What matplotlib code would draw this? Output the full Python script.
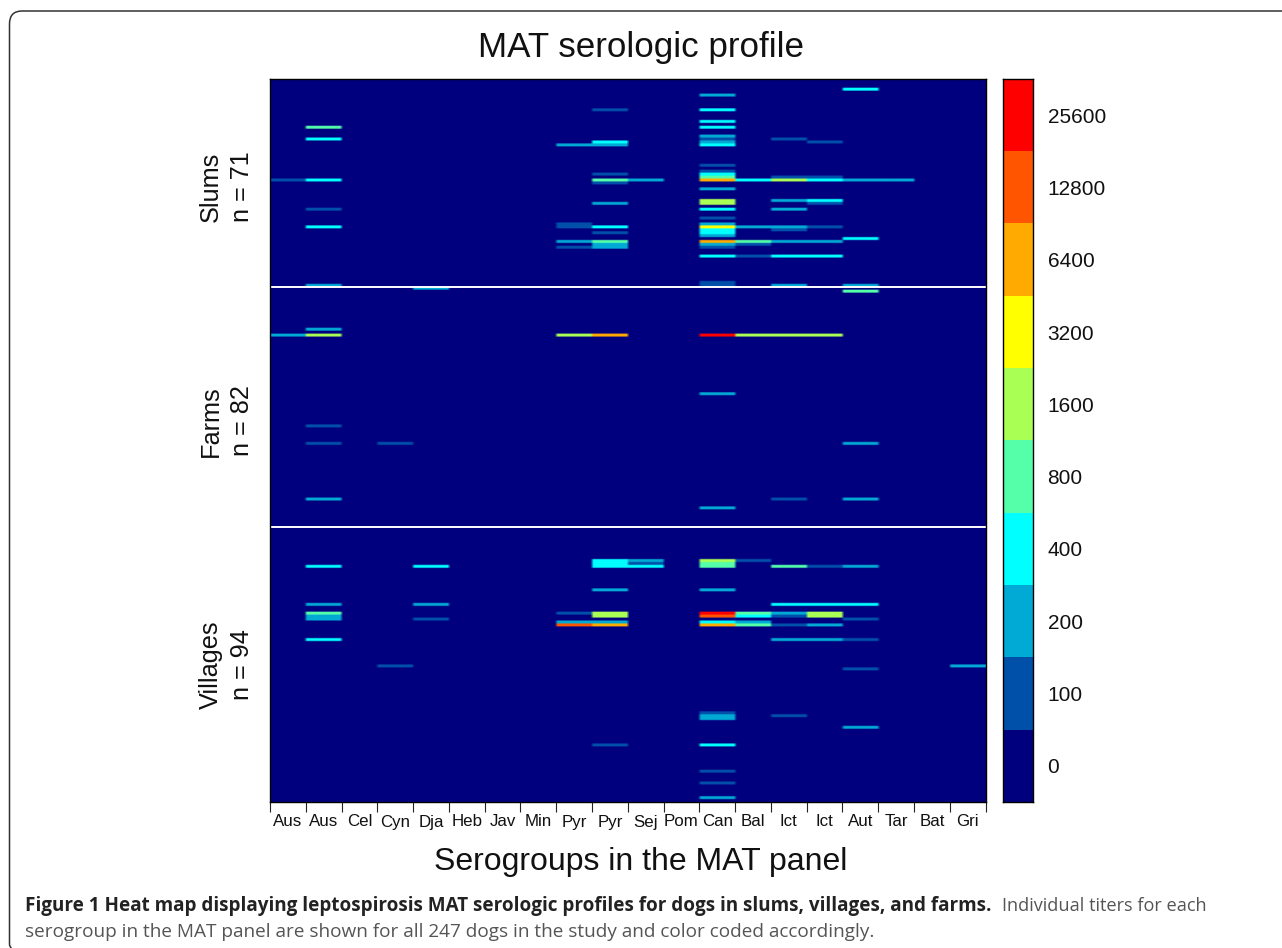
import matplotlib
matplotlib.use('Agg')
import matplotlib.pyplot as plt
import numpy as np
from matplotlib.colors import ListedColormap, BoundaryNorm
from matplotlib.patches import PathPatch
from matplotlib.path import Path

W, H = 1282, 948

serogroups = ['Aus', 'Aus', 'Cel', 'Cyn', 'Dja', 'Heb', 'Jav', 'Min', 'Pyr', 'Pyr',
              'Sej', 'Pom', 'Can', 'Bal', 'Ict', 'Ict', 'Aut', 'Tar', 'Bat', 'Gri']
titers = [0, 100, 200, 400, 800, 1600, 3200, 6400, 12800, 25600]
colors = ['#00007f', '#0050aa', '#00aad4', '#00ffff', '#55ffaa',
          '#aaff55', '#ffff00', '#ffaa00', '#ff5500', '#ff0000']
group_names = ['Slums', 'Farms', 'Villages']
group_sizes = [71, 82, 94]

# (dog row inside the group, serogroup column, titer)
slums = [
    (3, 16, 400), (5, 12, 200), (10, 9, 100), (10, 12, 400), (14, 12, 400),
    (16, 1, 800), (16, 12, 400), (19, 12, 200), (20, 1, 400), (20, 12, 100),
    (20, 14, 100), (21, 9, 400), (21, 12, 200), (21, 15, 100), (22, 8, 200),
    (22, 9, 200), (22, 12, 400), (29, 12, 100), (31, 12, 100), (32, 9, 100),
    (32, 12, 400), (33, 12, 800), (33, 14, 100), (33, 15, 100), (34, 0, 100),
    (34, 1, 400), (34, 9, 800), (34, 10, 200), (34, 12, 6400), (34, 13, 400),
    (34, 14, 1600), (34, 15, 400), (34, 16, 200), (34, 17, 200), (35, 9, 100),
    (37, 12, 200), (41, 12, 1600), (41, 14, 200), (41, 15, 400), (42, 9, 200),
    (42, 12, 1600), (42, 15, 100), (44, 1, 100), (44, 12, 400), (44, 14, 200),
    (47, 12, 100), (49, 8, 100), (49, 12, 200), (50, 1, 400), (50, 8, 100),
    (50, 9, 400), (50, 12, 3200), (50, 13, 200), (50, 14, 200), (50, 15, 100),
    (51, 12, 400), (51, 14, 100), (52, 9, 100), (52, 12, 400), (53, 12, 200),
    (54, 16, 400), (55, 8, 200), (55, 9, 800), (55, 12, 6400), (55, 13, 800),
    (55, 14, 200), (55, 15, 200), (56, 9, 200), (56, 12, 200), (56, 13, 100),
    (57, 8, 100), (57, 9, 200), (57, 12, 100), (60, 12, 400), (60, 13, 100),
    (60, 14, 400), (60, 15, 400), (69, 12, 100), (70, 1, 200), (70, 12, 100),
    (70, 14, 200), (70, 16, 200),
]

farms = [
    (0, 4, 200), (1, 16, 800), (14, 1, 200), (16, 0, 200), (16, 1, 1600),
    (16, 8, 1600), (16, 9, 6400), (16, 12, 25600), (16, 13, 1600), (16, 14, 1600),
    (16, 15, 1600), (36, 12, 200), (47, 1, 100), (53, 1, 100), (53, 3, 100),
    (53, 16, 200), (72, 1, 200), (72, 14, 100), (72, 16, 200), (75, 12, 200),
]

villages = [
    (11, 9, 400), (11, 10, 200), (11, 12, 1600), (11, 13, 100), (12, 9, 400),
    (12, 10, 100), (12, 12, 800), (13, 1, 400), (13, 4, 400), (13, 9, 400),
    (13, 10, 400), (13, 12, 800), (13, 14, 800), (13, 15, 100), (13, 16, 200),
    (21, 9, 200), (21, 12, 200), (26, 1, 200), (26, 4, 200), (26, 14, 400),
    (26, 15, 400), (26, 16, 400), (29, 1, 800), (29, 8, 100), (29, 9, 1600),
    (29, 12, 25600), (29, 13, 800), (29, 14, 200), (29, 15, 1600), (30, 1, 200),
    (30, 9, 1600), (30, 12, 12800), (30, 13, 400), (30, 14, 100), (30, 15, 1600),
    (31, 1, 200), (31, 4, 100), (31, 16, 100), (32, 8, 200), (32, 9, 200),
    (32, 12, 400), (32, 13, 200), (33, 8, 12800), (33, 9, 6400), (33, 12, 6400),
    (33, 13, 800), (33, 14, 100), (33, 15, 200), (38, 1, 400), (38, 14, 200),
    (38, 15, 200), (38, 16, 100), (47, 3, 100), (47, 19, 200), (48, 16, 100),
    (63, 12, 100), (64, 12, 200), (64, 14, 100), (65, 12, 200), (68, 16, 200),
    (74, 9, 100), (74, 12, 400), (83, 12, 100), (87, 12, 100), (92, 12, 200),
]

# fill one matrix of titer levels, groups stacked from top to bottom
levels = np.zeros((sum(group_sizes), len(serogroups)), dtype=int)
offset = 0
for hits, size in zip([slums, farms, villages], group_sizes):
    for row, col, titer in hits:
        levels[offset + row, col] = titers.index(titer)
    offset += size

cmap = ListedColormap(colors)
norm = BoundaryNorm(np.arange(len(titers) + 1) - 0.5, len(titers))


def px_axes(x0, y0, x1, y1):
    return fig.add_axes([x0 / W, 1 - y1 / H, (x1 - x0) / W, (y1 - y0) / H])


fig = plt.figure(figsize=(W / 100, H / 100), dpi=100)
plt.rcParams['font.family'] = ['Liberation Sans', 'DejaVu Sans']

# rounded frame of the journal figure, open to the right and at the bottom
frame = Path([(1.0, 1 - 11 / H), (22 / W, 1 - 11 / H), (9.5 / W, 1 - 11 / H), (9.5 / W, 1 - 24 / H),
              (9.5 / W, 1 - 944 / H), (9.5 / W, 1 - 947 / H), (11.5 / W, 1 - 948 / H)],
             [Path.MOVETO, Path.LINETO, Path.CURVE3, Path.CURVE3, Path.LINETO, Path.CURVE3, Path.CURVE3])
fig.add_artist(PathPatch(frame, fc='none', ec='#333333', lw=1.1, transform=fig.transFigure))

# heat map, cells repeated so only a thin soft fringe is left around each row
ax = px_axes(270, 79, 985.5, 802)
ax.imshow(np.repeat(np.repeat(levels, 2, axis=0), 12, axis=1), cmap=cmap, norm=norm, aspect='auto',
          interpolation='bilinear', interpolation_stage='rgba',
          extent=(-0.5, len(serogroups) - 0.5, levels.shape[0] - 0.5, -0.5))
ax.axhline(group_sizes[0] - 0.5, color='white', lw=1.4)
ax.axhline(group_sizes[0] + group_sizes[1] - 0.5, color='white', lw=1.4)
ax.set_yticks([])
ax.set_xticks(np.arange(len(serogroups) + 1) - 0.5)
ax.set_xticklabels([])
ax.tick_params(axis='x', length=7.5, width=0.8, color='#222222')
ax.set_xticks(np.arange(len(serogroups)), labels=serogroups, minor=True)
ax.tick_params(axis='x', which='minor', length=0, pad=9, labelsize=12.2, labelcolor='#111111')
for spine in ax.spines.values():
    spine.set_linewidth(1.0)

ax.set_title('MAT serologic profile', fontsize=25.2, pad=15.5, x=0.5185, color='#111111')
ax.set_xlabel('Serogroups in the MAT panel', fontsize=23, labelpad=12.5, x=0.5185, color='#111111')

# group labels on the left
label_y = [187, 421, 665]
for name, size, y in zip(group_names, group_sizes, label_y):
    fig.text(226.5 / W, 1 - y / H, name + '\nn = ' + str(size), rotation=90, ha='center', va='center',
             fontsize=18.2, linespacing=1.35, color='#111111', multialignment='center')

# colour key
cax = px_axes(1003, 79, 1033, 802)
cax.imshow(np.arange(len(titers))[::-1].reshape(-1, 1), cmap=cmap, norm=norm, aspect='auto',
           interpolation='nearest')
cax.set_xticks([])
cax.yaxis.tick_right()
cax.set_yticks(np.arange(len(titers)), labels=[str(t) for t in titers[::-1]])
cax.tick_params(axis='y', length=0, pad=10.5, labelsize=15, labelcolor='#111111')
for spine in cax.spines.values():
    spine.set_linewidth(1.0)

# caption
cap_bold = 'Figure 1 Heat map displaying leptospirosis MAT serologic profiles for dogs in slums, villages, and farms.'
fig.text(25 / W, 1 - 911 / H, cap_bold, family='Open Sans', weight='bold', fontsize=13.6,
         color='#222222', va='baseline')
fig.text(1002 / W, 1 - 911 / H, 'Individual titers for each', family='Open Sans', fontsize=13.1,
         color='#555555', va='baseline')
fig.text(25 / W, 1 - 937 / H, 'serogroup in the MAT panel are shown for all 247 dogs in the study and color coded accordingly.',
         family='Open Sans', fontsize=13.7, color='#555555', va='baseline')

fig.savefig('out.png', dpi=100)
